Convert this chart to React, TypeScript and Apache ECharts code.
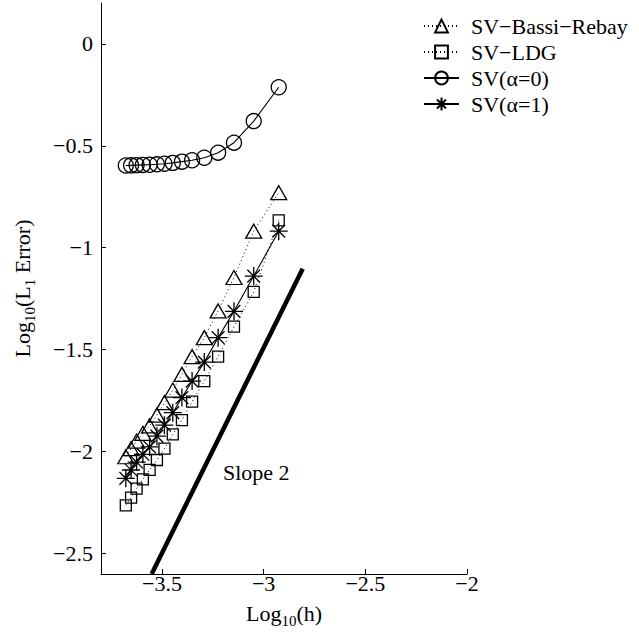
import React, { useEffect, useRef } from "react";
import * as echarts from "echarts";

const logH = [-3.678, -3.652, -3.625, -3.594, -3.561, -3.525, -3.488, -3.447, -3.402, -3.352, -3.292, -3.224, -3.146, -3.049, -2.926];
const bassiRebay = [-2.025, -1.985, -1.948, -1.91, -1.874, -1.821, -1.76, -1.698, -1.621, -1.534, -1.441, -1.31, -1.146, -0.919, -0.73];
const ldg = [-2.263, -2.225, -2.181, -2.136, -2.089, -2.041, -1.985, -1.915, -1.845, -1.755, -1.654, -1.534, -1.387, -1.217, -0.866];
const alpha0 = [-0.597, -0.596, -0.595, -0.594, -0.593, -0.591, -0.588, -0.584, -0.578, -0.571, -0.559, -0.534, -0.485, -0.379, -0.213];
const alpha1 = [-2.131, -2.09, -2.051, -2.013, -1.977, -1.924, -1.87, -1.809, -1.735, -1.654, -1.561, -1.441, -1.312, -1.139, -0.919];
const slopeX = [-3.551, -2.808];
const slopeY = [-2.6, -1.103];
const xTicks = [-3.5, -3, -2.5, -2];
const yTicks = [-2.5, -2, -1.5, -1, -0.5, 0];
const names = ["SV\u2212Bassi\u2212Rebay", "SV\u2212LDG", "SV(\u03b1=0)", "SV(\u03b1=1)"];

const FONT = "Liberation Serif";
const STAR = "path://M0,-10L0,10M-10,0L10,0M-7.07,-7.07L7.07,7.07M-7.07,7.07L7.07,-7.07";

const zip = (xs: number[], ys: number[]) => xs.map((x, i) => [x, ys[i]]);
const fmt = (v: number) => (v < 0 ? "\u2212" + String(Math.abs(v)) : String(v));

export default function App() {
  const ref = useRef<HTMLDivElement>(null);
  useEffect(() => {
    if (!ref.current) return;
    const chart = echarts.init(ref.current, undefined, { renderer: "svg" });
    const mk = (name: string, ys: number[], symbol: string, size: any, dotted: boolean) => ({
      name,
      type: "line",
      data: zip(logH, ys),
      symbol,
      symbolSize: size,
      showSymbol: true,
      lineStyle: { color: "#000", width: dotted ? 1 : 1.1, type: dotted ? [1, 3] : "solid" },
      itemStyle: { color: "rgba(0,0,0,0)", borderColor: "#000", borderWidth: 1.3 },
      emphasis: { disabled: true },
      z: 3,
    });
    const rich = {
      a: { fontFamily: FONT, fontSize: 22, lineHeight: 30, color: "#000" },
      s: { fontFamily: FONT, fontSize: 15, lineHeight: 16, verticalAlign: "bottom", color: "#000" },
    };
    chart.setOption({
      animation: false,
      backgroundColor: "#fff",
      grid: { left: 101, right: 172, top: 3, bottom: 64, containLabel: false },
      legend: {
        data: names,
        orient: "vertical",
        left: 418,
        top: 10,
        itemWidth: 35,
        itemHeight: 16,
        itemGap: 4,
        selectedMode: false,
        textStyle: { fontFamily: FONT, fontSize: 22, lineHeight: 22, color: "#000", padding: [0, 0, 0, 7] },
      },
      xAxis: {
        type: "value",
        min: -3.8,
        max: -2,
        name: "{a|Log}{s|10}{a|(h)}",
        nameLocation: "middle",
        nameGap: 24,
        nameTextStyle: { rich },
        axisLine: { show: true, onZero: false, lineStyle: { color: "#000", width: 1 } },
        axisTick: { show: true, inside: true, length: 5, lineStyle: { color: "#000" }, customValues: xTicks },
        axisLabel: {
          customValues: xTicks,
          formatter: (v: number) => fmt(v),
          fontFamily: FONT,
          fontSize: 22,
          color: "#000",
          margin: -2,
        },
        splitLine: { show: false },
      },
      yAxis: {
        type: "value",
        min: -2.6,
        max: 0.2,
        name: "{a|Log}{s|10}{a|(L}{s|1}{a| Error)}",
        nameLocation: "middle",
        nameRotate: 90,
        nameGap: 64,
        nameTextStyle: { rich },
        axisLine: { show: true, onZero: false, lineStyle: { color: "#000", width: 1 } },
        axisTick: { show: true, inside: true, length: 5, lineStyle: { color: "#000" }, customValues: yTicks },
        axisLabel: {
          customValues: yTicks,
          formatter: (v: number) => fmt(v),
          fontFamily: FONT,
          fontSize: 22,
          color: "#000",
          margin: 8,
        },
        splitLine: { show: false },
      },
      graphic: [
        {
          type: "text",
          left: 223,
          top: 461,
          style: { text: "Slope 2", fontFamily: FONT, fontSize: 22, fill: "#000" },
        },
      ],
      series: [
        {
          name: "slope",
          type: "line",
          data: zip(slopeX, slopeY),
          symbol: "none",
          lineStyle: { color: "#000", width: 4.5 },
          emphasis: { disabled: true },
          z: 2,
        },
        mk(names[0], bassiRebay, "triangle", [16, 14], true),
        mk(names[1], ldg, "rect", 11, true),
        mk(names[2], alpha0, "circle", 15, false),
        mk(names[3], alpha1, STAR, 18, false),
      ],
    });
    return () => chart.dispose();
  }, []);
  return <div ref={ref} style={{ position: "fixed", left: 0, top: 0, width: 639, height: 638 }} />;
}
